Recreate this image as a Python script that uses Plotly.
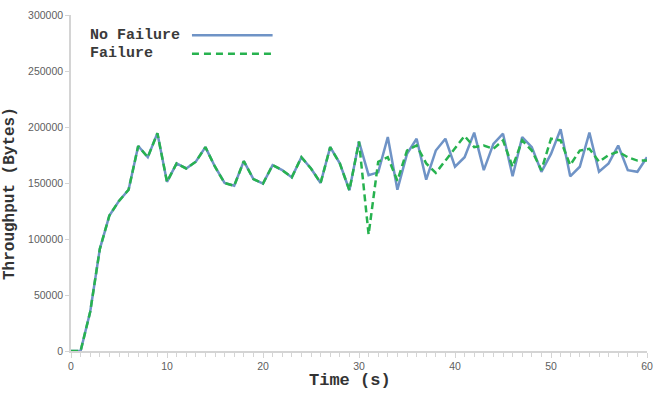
import plotly.graph_objects as go

time_s = list(range(0, 61))
no_failure = [0, 0, 35000, 91000, 121000, 134000, 144000, 183000, 173000, 194500,
              151000, 167500, 163000, 169000, 182000, 164500, 150000, 147500, 169500, 153500,
              149500, 166000, 161500, 155000, 173000, 163000, 150000, 182000, 167500, 143500,
              187000, 157000, 159500, 191000, 144000, 176000, 189500, 153000, 179000, 189500,
              164500, 173000, 195000, 161500, 185000, 194000, 156000, 191000, 182000, 160000,
              176000, 198000, 156000, 164500, 195000, 160000, 167500, 183500, 161500, 160000,
              173000]
failure = no_failure[:31] + [104000, 169000, 173000, 152000, 179000, 183500, 167500, 159000, 170000,
                             182000, 192000, 182000, 183500, 180500, 188000, 164500, 188000, 179000, 161500,
                             189500, 188000, 166000, 179000, 180500, 169000, 175000, 178000, 173000, 170000,
                             170000]
series_names = ["No Failure", "Failure"]
x_ticks = [0, 10, 20, 30, 40, 50, 60]
y_ticks = [0, 50000, 100000, 150000, 200000, 250000, 300000]

BLUE = "#6f93c6"
GREEN = "#27b24f"
MONO = "Courier New, Liberation Mono, monospace"
TICKFONT = dict(family="Liberation Sans, Arial", size=10.5, color="#606060")

fig = go.Figure()
fig.add_trace(go.Scatter(x=time_s, y=no_failure, mode="lines", name=series_names[0],
                         line=dict(color=BLUE, width=2.5)))
fig.add_trace(go.Scatter(x=time_s, y=failure, mode="lines", name=series_names[1],
                         line=dict(color=GREEN, width=2.5, dash="7px,4px")))

# custom legend (text left, line sample right)
legend_items = [(series_names[0], BLUE, "solid", 0.94), (series_names[1], GREEN, "7px,5px", 0.885)]
for name, col, dash, yp in legend_items:
    fig.add_annotation(xref="paper", yref="paper", x=0.03, y=yp, text="<b>%s</b>" % name,
                       showarrow=False, xanchor="left", yanchor="middle",
                       font=dict(family=MONO, size=15, color="#3a3a3a"))
    fig.add_shape(type="line", xref="paper", yref="paper", x0=0.21, x1=0.35, y0=yp, y1=yp,
                  line=dict(color=col, width=2.5, dash=dash))

# axis titles as annotations (positioned like the original)
fig.add_annotation(xref="paper", yref="paper", x=0.485, y=-0.088, text="<b>Time (s)</b>",
                   showarrow=False, xanchor="center", yanchor="middle",
                   font=dict(family=MONO, size=17, color="#333333"))
fig.add_annotation(xref="paper", yref="paper", x=-0.106, y=0.47, text="<b>Throughput (Bytes)</b>",
                   showarrow=False, xanchor="center", yanchor="middle", textangle=-90,
                   font=dict(family=MONO, size=16, color="#333333"))

fig.update_layout(
    width=662, height=400,
    margin=dict(l=71, r=11, t=9, b=49),
    plot_bgcolor="white", paper_bgcolor="white",
    showlegend=False,
    xaxis=dict(range=[0, 60], tickvals=x_ticks, showgrid=False, zeroline=False,
               showline=True, linecolor="#d4d4d4", linewidth=1.5,
               ticks="outside", ticklen=5, tickcolor="#d4d4d4",
               minor=dict(dtick=1, ticks="outside", ticklen=4, tickcolor="#d4d4d4"),
               tickfont=TICKFONT),
    yaxis=dict(range=[0, 300000], tickvals=y_ticks, tickformat="d", showgrid=False, zeroline=False,
               showline=True, linecolor="#d4d4d4", linewidth=1.5,
               ticks="outside", ticklen=4, tickcolor="#d4d4d4",
               tickfont=TICKFONT),
)

fig.write_html("out.html")
